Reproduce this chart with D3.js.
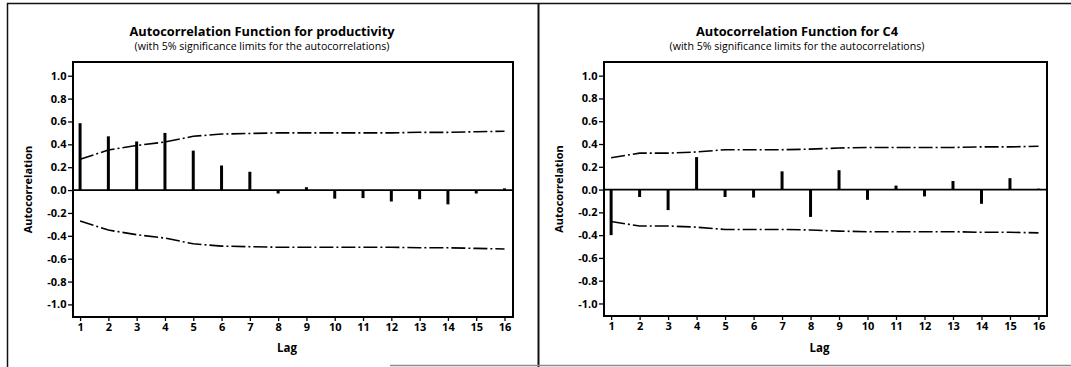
<!DOCTYPE html>
<html>
<head>
<meta charset="utf-8">
<script src="https://cdn.jsdelivr.net/npm/d3@7"></script>
<style>
  body { margin: 0; background: #fff; }
  svg { display: block; }
  text { font-family: "Open Sans", "DejaVu Sans", sans-serif; fill: #000; }
</style>
</head>
<body>
<svg id="chart" width="1071" height="367"></svg>
<script>
// Lags and y tick values
const lags = [1, 2, 3, 4, 5, 6, 7, 8, 9, 10, 11, 12, 13, 14, 15, 16];
const yTickValues = [-1.0, -0.8, -0.6, -0.4, -0.2, 0.0, 0.2, 0.4, 0.6, 0.8, 1.0];

// Autocorrelations and 5% significance limits, productivity
const productivityAcf = [0.585, 0.47, 0.425, 0.50, 0.345, 0.215, 0.16, -0.03, 0.025, -0.075, -0.07, -0.10, -0.08, -0.125, -0.03, 0.015];
const productivityLimit = [0.27, 0.35, 0.39, 0.42, 0.47, 0.49, 0.495, 0.50, 0.50, 0.50, 0.50, 0.50, 0.505, 0.505, 0.51, 0.515];

// Autocorrelations and 5% significance limits, C4
const c4Acf = [-0.40, -0.065, -0.18, 0.285, -0.065, -0.07, 0.16, -0.24, 0.17, -0.09, 0.035, -0.06, 0.075, -0.125, 0.10, 0.008];
const c4Limit = [0.28, 0.32, 0.32, 0.33, 0.35, 0.35, 0.35, 0.355, 0.365, 0.37, 0.37, 0.37, 0.37, 0.375, 0.375, 0.38];

const panelTitles = ["Autocorrelation Function for productivity", "Autocorrelation Function for C4"];
const panelSubtitles = [
  "(with 5% significance limits for the autocorrelations)",
  "(with 5% significance limits for the autocorrelations)"
];

const svg = d3.select("#chart");

// Outer frame lines around the two panels
svg.append("line").attr("x1", 7).attr("x2", 1071).attr("y1", 3.5).attr("y2", 3.5)
  .attr("stroke", "#111").attr("stroke-width", 1.5);
svg.append("line").attr("x1", 7.5).attr("x2", 7.5).attr("y1", 3).attr("y2", 367)
  .attr("stroke", "#111").attr("stroke-width", 1.5);
svg.append("line").attr("x1", 538.5).attr("x2", 538.5).attr("y1", 3).attr("y2", 367)
  .attr("stroke", "#111").attr("stroke-width", 2);
svg.append("line").attr("x1", 390).attr("x2", 1071).attr("y1", 365.5).attr("y2", 365.5)
  .attr("stroke", "#8a8a8a").attr("stroke-width", 1.5);

function drawPanel(cfg) {
  const g = svg.append("g");
  const x = d3.scaleLinear().domain([0.75, 16.3]).range([cfg.left, cfg.right]);
  const y = d3.scaleLinear().domain([-1.11, 1.12]).range([cfg.bottom, cfg.top]);

  // Titles
  g.append("text").attr("x", cfg.titleX).attr("y", 36)
    .attr("text-anchor", "middle").attr("font-size", 12.8).attr("font-weight", 700)
    .text(cfg.title);
  g.append("text").attr("x", cfg.titleX).attr("y", 49.5)
    .attr("text-anchor", "middle").attr("font-size", 10.6)
    .text(cfg.subtitle);

  // Axes
  const yAxis = d3.axisLeft(y).tickValues(yTickValues)
    .tickFormat(d => d.toFixed(1)).tickSize(5).tickPadding(1.5);
  const ya = g.append("g").attr("transform", `translate(${cfg.left},0)`).call(yAxis);
  ya.select(".domain").remove();
  ya.selectAll(".tick line").attr("stroke", "#000").attr("stroke-width", 1.3);
  ya.selectAll(".tick text").attr("font-size", 11).attr("font-weight", 700)
    .attr("font-family", "\"Open Sans\", sans-serif").attr("fill", "#000");

  const xAxis = d3.axisBottom(x).tickValues(lags).tickFormat(d3.format("d"))
    .tickSize(4).tickPadding(2.5);
  const xa = g.append("g").attr("transform", `translate(0,${cfg.bottom})`).call(xAxis);
  xa.select(".domain").remove();
  xa.selectAll(".tick line").attr("stroke", "#000").attr("stroke-width", 1.3);
  xa.selectAll(".tick text").attr("font-size", 11).attr("font-weight", 700)
    .attr("font-family", "\"Open Sans\", sans-serif").attr("fill", "#000");

  // Axis titles
  g.append("text").attr("x", (cfg.left + cfg.right) / 2 - 6).attr("y", 352)
    .attr("text-anchor", "middle").attr("font-size", 11.5).attr("font-weight", 700)
    .text("Lag");
  g.append("text")
    .attr("transform", `translate(${cfg.left - 41},${(cfg.top + cfg.bottom) / 2}) rotate(-90)`)
    .attr("text-anchor", "middle").attr("font-size", 11).attr("font-weight", 700)
    .text("Autocorrelation");

  // Zero reference line
  g.append("line").attr("x1", cfg.left).attr("x2", cfg.right)
    .attr("y1", y(0)).attr("y2", y(0))
    .attr("stroke", "#000").attr("stroke-width", 1.8);

  // Significance limits
  const limitLine = sign => d3.line().x((d, i) => x(lags[i])).y(d => y(sign * d));
  [1, -1].forEach(sign => {
    g.append("path").datum(cfg.limit)
      .attr("d", limitLine(sign))
      .attr("fill", "none").attr("stroke", "#000").attr("stroke-width", 1.6)
      .attr("stroke-dasharray", "14,3,2,3");
  });

  // Autocorrelation stems
  g.selectAll("line.stem").data(cfg.acf).enter().append("line")
    .attr("class", "stem")
    .attr("x1", (d, i) => x(lags[i])).attr("x2", (d, i) => x(lags[i]))
    .attr("y1", y(0)).attr("y2", d => y(d))
    .attr("stroke", "#000").attr("stroke-width", 3);

  // Plot frame
  g.append("rect").attr("x", cfg.left).attr("y", cfg.top)
    .attr("width", cfg.right - cfg.left).attr("height", cfg.bottom - cfg.top)
    .attr("fill", "none").attr("stroke", "#000").attr("stroke-width", 2);
}

drawPanel({
  left: 73, right: 513, top: 62, bottom: 317,
  titleX: 262, title: panelTitles[0], subtitle: panelSubtitles[0],
  acf: productivityAcf, limit: productivityLimit
});
drawPanel({
  left: 604, right: 1047, top: 62, bottom: 316,
  titleX: 797, title: panelTitles[1], subtitle: panelSubtitles[1],
  acf: c4Acf, limit: c4Limit
});
</script>
</body>
</html>
